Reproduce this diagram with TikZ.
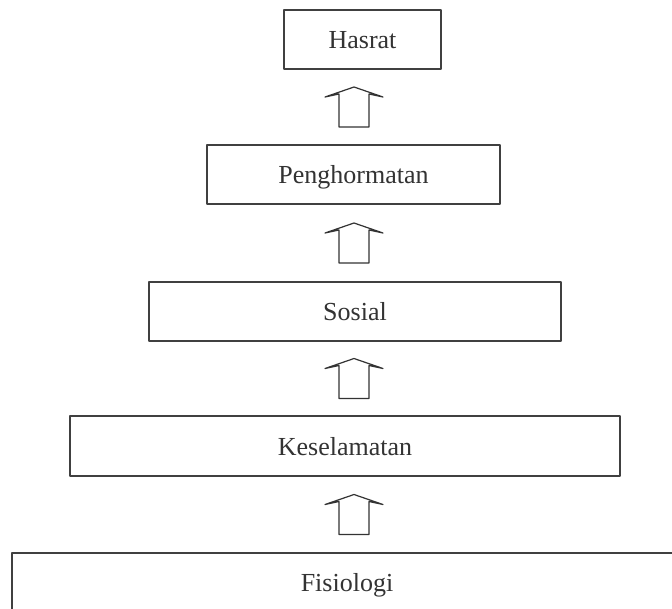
\documentclass[tikz,border=0pt]{standalone}
\usepackage{fontspec}
\setmainfont{Liberation Serif}
\usetikzlibrary{calc}
\tikzset{
	kotak/.style={draw=black!75, line width=1.3pt, text=black!80,
		font=\fontsize{26}{30}\selectfont, text height=18pt, text depth=0pt, inner sep=0pt},
	panah/.style={draw=black!80, line width=1.2pt, fill=white}
}
\begin{document}
\begin{tikzpicture}[x=1pt,y=-1pt,line join=round,line cap=round]
			\useasboundingbox[fill=white] (0,0) rectangle (672,608);
			\coordinate (sumbu) at (354,0);
			\node[kotak,minimum width=157pt,minimum height=59pt] (hasrat) at (362.5,39.5) {Hasrat};
			\node[kotak,minimum width=293pt,minimum height=59pt] (hormat) at (353.5,174.5) {Penghormatan};
			\node[kotak,minimum width=412pt,minimum height=59pt] (sosial) at (355,311.5) {Sosial};
			\node[kotak,minimum width=550pt,minimum height=60pt] (selamat) at (345,446) {Keselamatan};
			\node[kotak,minimum width=670pt,minimum height=59pt] (fisio) at (347,582.5) {Fisiologi};
			\foreach \atas/\bawah in {hasrat/hormat,hormat/sosial,sosial/selamat,selamat/fisio}
			{
				\coordinate (m) at ($(\atas.south)!.5!(\bawah.north)$);
				\draw[panah] (sumbu |- m) +(0,-20) -- +(29,-10) -- +(15,-13) -- +(15,20)
					-- +(-15,20) -- +(-15,-13) -- +(-29,-10) -- cycle;
			}
		\end{tikzpicture}
\end{document}
